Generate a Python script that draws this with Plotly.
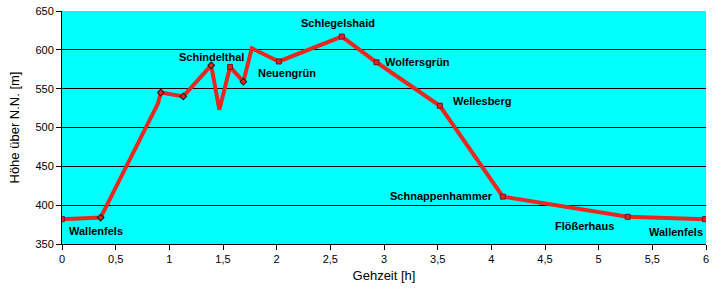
import plotly.graph_objects as go

# profile points (time [h], elevation [m])
t = [0, 0.18, 0.36, 0.895, 0.92, 1.13, 1.39, 1.466, 1.566, 1.69, 1.768, 2.02, 2.607, 2.93, 3.52, 4.107, 4.6, 5.27, 5.99]
h = [382, 383, 384, 531, 545, 540, 580, 523, 578, 559, 602, 585, 617, 584, 528, 411, 400, 385, 382]

# named stations with red square markers
st_t = [0, 1.566, 2.02, 2.607, 2.93, 3.52, 4.107, 5.27, 5.99]
st_h = [382, 578, 585, 617, 584, 528, 411, 385, 382]

# small diamond markers
dm_t = [0.36, 0.92, 1.13, 1.39, 1.69]
dm_h = [384, 545, 540, 580, 559]

# labels
lab_text = ["Wallenfels", "Schindelthal", "Neuengrün", "Schlegelshaid", "Wolfersgrün",
            "Wellesberg", "Schnappenhammer", "Flößerhaus", "Wallenfels"]
lab_x = [0.05, 1.39, 1.81, 2.57, 2.99, 3.62, 4.03, 4.87, 5.99]
lab_y = [367, 591, 570, 634.5, 584, 534, 412, 373, 366]
lab_anchor = ["left", "center", "left", "center", "left", "left", "right", "center", "right"]

xticks = [0, 0.5, 1, 1.5, 2, 2.5, 3, 3.5, 4, 4.5, 5, 5.5, 6]
xtick_text = ["0", "0,5", "1", "1,5", "2", "2,5", "3", "3,5", "4", "4,5", "5", "5,5", "6"]
yticks = [350, 400, 450, 500, 550, 600, 650]

fig = go.Figure()
fig.add_trace(go.Scatter(x=t, y=h, mode="lines",
                         line=dict(color="#e8281e", width=4), hoverinfo="skip"))
fig.add_trace(go.Scatter(x=dm_t, y=dm_h, mode="markers",
                         marker=dict(symbol="diamond", size=5, color="#e8281e",
                                     line=dict(color="#202020", width=1.2))))
fig.add_trace(go.Scatter(x=st_t, y=st_h, mode="markers",
                         marker=dict(symbol="square", size=5, color="#e0202a",
                                     line=dict(color="#801010", width=1))))

for txt, x, y, a in zip(lab_text, lab_x, lab_y, lab_anchor):
    fig.add_annotation(x=x, y=y, text="<b>" + txt + "</b>", showarrow=False,
                       xanchor=a, yanchor="middle",
                       font=dict(family="Arial, Liberation Sans", size=11, color="black"))

fig.update_layout(
    width=725, height=295,
    margin=dict(l=62, r=19, t=11, b=51, autoexpand=False),
    paper_bgcolor="white", plot_bgcolor="#00ffff",
    showlegend=False,
    font=dict(family="Arial, Liberation Sans", size=11, color="black"),
    xaxis=dict(range=[0, 6], tickvals=xticks, ticktext=xtick_text, automargin=False,
               showgrid=False, zeroline=False, showline=True, linecolor="black",
               linewidth=1, ticks="outside", ticklen=5, tickcolor="black",
               title=dict(text="Gehzeit [h]", font=dict(size=13), standoff=6)),
    yaxis=dict(range=[350, 650], tickvals=yticks, automargin=False,
               showgrid=True, gridcolor="black", gridwidth=1, zeroline=False,
               showline=True, linecolor="black", linewidth=1,
               ticks="outside", ticklen=5, tickcolor="black",
               title=dict(text="Höhe über N.N. [m]", font=dict(size=13), standoff=12)),
)

fig.write_html("out.html")
